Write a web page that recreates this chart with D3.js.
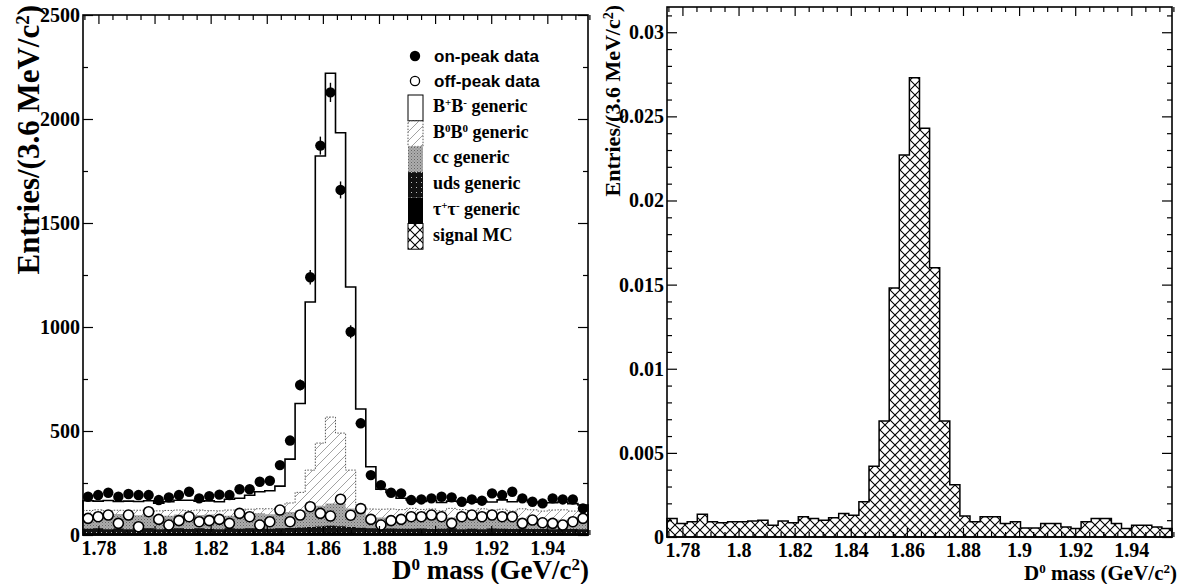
<!DOCTYPE html>
<html>
<head>
<meta charset="utf-8">
<script src="https://cdn.jsdelivr.net/npm/d3@7"></script>
<style>
body { margin: 0; background: #fff; }
svg { display: block; }
.tick line { stroke: #000; stroke-width: 1.2px; }
</style>
</head>
<body>
<svg id="chart" width="1184" height="584"></svg>
<script>
// bins: 50 x 3.6 MeV around the D0 mass
var binStart = 1.7745, binWidth = 0.0036;
var binEdges = d3.range(51).map(function(i) { return binStart + i * binWidth; });

// left panel - data points (entries per bin)
var onPeak = [184,192,203,184,197,192,192,168,181,192, 208,176,187,194,192,220,220,256,261,336,
              454,721,1239,1872,2128,1659,977,537,288,240, 203,200,168,171,176,184,181,160,171,165,
              200,192,208,176,160,152,176,171,171,128];
var offPeak = [80,88,96,56,96,40,112,75,48,69, 88,64,69,75,56,104,88,48,64,120,
               64,96,136,104,91,172,95,127,75,48, 69,75,88,88,96,88,56,88,96,88,
               96,88,88,56,72,59,56,48,64,80];

// left panel - generic MC, one array per stack component
var tauGeneric = [8,9,7,8,8,9,8,7,8,9, 8,8,7,8,9,8,8,9,8,8, 9,10,10,11,12,11,10,9,8,8,
                  8,9,8,7,8,8,9,8,8,7, 8,8,9,8,8,7,8,8,7,8];
var udsGeneric = [22,24,21,23,20,22,25,21,22,23, 21,24,22,20,23,22,24,23,22,24, 25,26,28,30,32,31,28,26,24,22,
                  23,21,22,24,21,22,23,20,22,21, 23,22,20,22,21,22,20,21,22,20];
var ccGeneric = [62,66,60,70,58,64,68,60,62,66, 58,64,70,62,60,66,68,72,70,72, 76,82,90,100,108,110,90,76,58,54,
                 50,50,52,48,50,46,52,48,46,50, 44,48,46,50,44,42,46,44,40,42];
var b0Generic = [26,22,28,18,30,24,20,28,26,22, 30,24,18,26,28,24,24,22,26,26, 44,87,184,301,415,338,184,33,35,40,
                 44,42,46,44,46,40,44,46,42,48, 44,46,40,46,48,44,46,48,46,44];
var bpGeneric = [47,42,50,42,47,42,44,37,42,47, 50,42,47,44,52,57,67,82,87,105, 211,427,808,1380,1653,1444,880,462,203,96,
                 80,55,40,38,42,40,35,38,40,36, 40,45,45,42,38,40,35,38,36,30];

// right panel - signal MC (normalised)
var signalMC = [0.0011,0.0008,0.0009,0.00135,0.0009,0.00085,0.0009,0.0009,0.00095,0.001,
                0.0007,0.00095,0.00085,0.0012,0.0011,0.001,0.00115,0.0014,0.0013,0.0021,
                0.0042,0.0069,0.0148,0.0227,0.0273,0.0243,0.0160,0.0069,0.0031,0.00125,
                0.0009,0.0012,0.0012,0.0008,0.0009,0.00053,0.00053,0.0008,0.0008,0.0006,
                0.0005,0.0009,0.0011,0.0011,0.0008,0.0005,0.0007,0.0007,0.0006,0.0005];

// tick labels
var xTicks = [1.78, 1.8, 1.82, 1.84, 1.86, 1.88, 1.9, 1.92, 1.94];
var leftYTicks = [0, 500, 1000, 1500, 2000, 2500];
var rightYTicks = [0, 0.005, 0.01, 0.015, 0.02, 0.025, 0.03];

var serif = "'Liberation Serif', 'Times New Roman', serif";
var svg = d3.select("#chart");

/////////////////////////////////////////////////////////////////////////
// patterns
var defs = svg.append("defs");

var hatch = defs.append("pattern").attr("id", "hatch")
    .attr("patternUnits", "userSpaceOnUse").attr("width", 9).attr("height", 9);
hatch.append("path").attr("d", "M0,9 L9,0 M-2,2 L2,-2 M7,11 L11,7")
    .attr("stroke", "#8a8a8a").attr("stroke-width", 0.8);

var stipple = defs.append("pattern").attr("id", "stipple")
    .attr("patternUnits", "userSpaceOnUse").attr("width", 3).attr("height", 3);
stipple.append("rect").attr("width", 3).attr("height", 3).attr("fill", "#adadad");
stipple.append("rect").attr("x", 0).attr("y", 0).attr("width", 1).attr("height", 1).attr("fill", "#666");
stipple.append("rect").attr("x", 1.5).attr("y", 1.5).attr("width", 1).attr("height", 1).attr("fill", "#7e7e7e");

var darkDots = defs.append("pattern").attr("id", "darkdots")
    .attr("patternUnits", "userSpaceOnUse").attr("width", 5).attr("height", 5);
darkDots.append("rect").attr("width", 5).attr("height", 5).attr("fill", "#111");
darkDots.append("rect").attr("x", 1).attr("y", 2).attr("width", 1).attr("height", 1).attr("fill", "#bbb");

var cross = defs.append("pattern").attr("id", "cross")
    .attr("patternUnits", "userSpaceOnUse").attr("width", 10).attr("height", 10);
cross.append("rect").attr("width", 10).attr("height", 10).attr("fill", "#fff");
cross.append("path").attr("d", "M0,0 L10,10 M0,10 L10,0")
    .attr("stroke", "#000").attr("stroke-width", 1.1);

/////////////////////////////////////////////////////////////////////////
// helpers

// step outline for a histogram given per-bin values
function histPoints(vals) {
    var pts = vals.map(function(v, i) { return [binEdges[i], v]; });
    pts.push([binEdges[50], vals[vals.length - 1]]);
    return pts;
}

// text with superscripts, parts = [[string, isSup], ...]
function richText(sel, parts, size) {
    sel.style("font-family", serif).style("font-weight", "bold").style("font-size", size + "px");
    parts.forEach(function(p) {
        var t = sel.append("tspan").text(p[0]);
        if (p[1]) t.attr("baseline-shift", "super").style("font-size", Math.round(size * 0.62) + "px");
    });
    return sel;
}

function drawAxes(g, x, y, yMajor, yMinor, yFmt) {
    var xr = x.range(), yr = y.range();
    var minorX = d3.range(0, 37).map(function(i) { return 1.775 + i * 0.005; })
        .filter(function(v) { return xTicks.every(function(t) { return Math.abs(t - v) > 1e-6; }); });
    function clean(a) {
        a.select(".domain").remove();
        a.selectAll("text")
            .style("font-family", serif).style("font-weight", "bold")
            .style("font-size", "20px").attr("fill", "#000");
    }

    // bottom + top
    g.append("g").attr("transform", "translate(0," + yr[0] + ")")
        .call(d3.axisBottom(x).tickValues(xTicks).tickSize(-9).tickPadding(6)
            .tickFormat(function(d) { return +d.toFixed(2); }))
        .call(clean);
    g.append("g").attr("transform", "translate(0," + yr[0] + ")")
        .call(d3.axisBottom(x).tickValues(minorX).tickSize(-5).tickFormat(""))
        .call(clean);
    g.append("g").attr("transform", "translate(0," + yr[1] + ")")
        .call(d3.axisTop(x).tickValues(xTicks).tickSize(-9).tickFormat(""))
        .call(clean);
    g.append("g").attr("transform", "translate(0," + yr[1] + ")")
        .call(d3.axisTop(x).tickValues(minorX).tickSize(-5).tickFormat(""))
        .call(clean);

    // left + right
    g.append("g").attr("transform", "translate(" + xr[0] + ",0)")
        .call(d3.axisLeft(y).tickValues(yMajor).tickSize(-10).tickPadding(3).tickFormat(yFmt))
        .call(clean);
    g.append("g").attr("transform", "translate(" + xr[0] + ",0)")
        .call(d3.axisLeft(y).tickValues(yMinor).tickSize(-5).tickFormat(""))
        .call(clean);
    g.append("g").attr("transform", "translate(" + xr[1] + ",0)")
        .call(d3.axisRight(y).tickValues(yMajor).tickSize(-10).tickFormat(""))
        .call(clean);
    g.append("g").attr("transform", "translate(" + xr[1] + ",0)")
        .call(d3.axisRight(y).tickValues(yMinor).tickSize(-5).tickFormat(""))
        .call(clean);

    // frame
    g.append("rect")
        .attr("x", xr[0]).attr("y", yr[1])
        .attr("width", xr[1] - xr[0]).attr("height", yr[0] - yr[1])
        .attr("fill", "none").attr("stroke", "#000").attr("stroke-width", 1.6);
}

/////////////////////////////////////////////////////////////////////////
// LEFT PANEL
var xL = d3.scaleLinear().domain([binEdges[0], binEdges[50]]).range([83, 588]);
var yL = d3.scaleLinear().domain([0, 2500]).range([535, 15]);
var left = svg.append("g");

var stackRows = binEdges.slice(0, 50).map(function(e, i) {
    return { tau: tauGeneric[i], uds: udsGeneric[i], cc: ccGeneric[i], b0: b0Generic[i], bp: bpGeneric[i] };
});
var layers = d3.stack().keys(["tau", "uds", "cc", "b0", "bp"])(stackRows);

var areaL = d3.area().curve(d3.curveStepAfter)
    .x(function(d) { return xL(d[0]); })
    .y0(yL(0))
    .y1(function(d) { return yL(d[1]); });

var layerStyle = {
    bp:  { fill: "#fff", stroke: "#000", width: 1.6, dash: null },
    b0:  { fill: "url(#hatch)", stroke: "#555", width: 1, dash: "1.5,1.5" },
    cc:  { fill: "url(#stipple)", stroke: "none", width: 0, dash: null },
    uds: { fill: "url(#darkdots)", stroke: "none", width: 0, dash: null },
    tau: { fill: "#000", stroke: "none", width: 0, dash: null }
};

// cumulative histograms, drawn from the top of the stack down
layers.slice().reverse().forEach(function(layer) {
    var st = layerStyle[layer.key];
    left.append("path")
        .datum(histPoints(layer.map(function(d) { return d[1]; })))
        .attr("d", areaL)
        .attr("fill", st.fill)
        .attr("stroke", st.stroke)
        .attr("stroke-width", st.width)
        .attr("stroke-dasharray", st.dash);
});

var centers = binEdges.slice(0, 50).map(function(e) { return e + binWidth / 2; });

// off-peak points
left.selectAll(".off").data(offPeak).enter().append("circle")
    .attr("class", "off")
    .attr("cx", function(d, i) { return xL(centers[i]); })
    .attr("cy", function(d) { return yL(d); })
    .attr("r", 5)
    .attr("fill", "#fff").attr("stroke", "#000").attr("stroke-width", 1.6);

// on-peak points with sqrt(N) errors
left.selectAll(".err").data(onPeak).enter().append("line")
    .attr("class", "err")
    .attr("x1", function(d, i) { return xL(centers[i]); })
    .attr("x2", function(d, i) { return xL(centers[i]); })
    .attr("y1", function(d) { return yL(d + Math.sqrt(d)); })
    .attr("y2", function(d) { return yL(d - Math.sqrt(d)); })
    .attr("stroke", "#000").attr("stroke-width", 1.4);

left.selectAll(".on").data(onPeak).enter().append("circle")
    .attr("class", "on")
    .attr("cx", function(d, i) { return xL(centers[i]); })
    .attr("cy", function(d) { return yL(d); })
    .attr("r", 5.2)
    .attr("fill", "#000");

drawAxes(left, xL, yL, leftYTicks, [250, 750, 1250, 1750, 2250], function(d) { return d; });

// legend
var legend = left.append("g");
legend.append("circle").attr("cx", 415).attr("cy", 56).attr("r", 5.2).attr("fill", "#000");
legend.append("circle").attr("cx", 415).attr("cy", 81).attr("r", 4.6)
    .attr("fill", "#fff").attr("stroke", "#000").attr("stroke-width", 1.3);
legend.append("text").attr("x", 434).attr("y", 62).text("on-peak data")
    .style("font-family", "'Liberation Sans', sans-serif").style("font-weight", "bold").style("font-size", "17px");
legend.append("text").attr("x", 434).attr("y", 87).text("off-peak data")
    .style("font-family", "'Liberation Sans', sans-serif").style("font-weight", "bold").style("font-size", "17px");

var legendItems = [
    { fill: "#fff", stroke: "#000", dash: null, parts: [["B", 0], ["+", 1], ["B", 0], ["-", 1], [" generic", 0]] },
    { fill: "url(#hatch)", stroke: "#555", dash: "1.5,1.5", parts: [["B", 0], ["0", 1], ["B", 0], ["0", 1], [" generic", 0]] },
    { fill: "url(#stipple)", stroke: "none", dash: null, parts: [["cc generic", 0]] },
    { fill: "url(#darkdots)", stroke: "none", dash: null, parts: [["uds generic", 0]] },
    { fill: "#000", stroke: "none", dash: null, parts: [["\u03c4", 0], ["+", 1], ["\u03c4", 0], ["-", 1], [" generic", 0]] },
    { fill: "url(#cross)", stroke: "#000", dash: null, parts: [["signal MC", 0]] }
];
legendItems.forEach(function(item, k) {
    var y0 = 95 + k * 25.7;
    legend.append("rect").attr("x", 408).attr("y", y0).attr("width", 15).attr("height", 25.7)
        .attr("fill", item.fill).attr("stroke", item.stroke).attr("stroke-width", 1)
        .attr("stroke-dasharray", item.dash);
    var t = legend.append("text").attr("x", 433).attr("y", y0 + 17);
    richText(t, item.parts, 18);
});

// titles
var yTitleL = left.append("text")
    .attr("transform", "translate(39,5) rotate(-90)")
    .attr("text-anchor", "end");
richText(yTitleL, [["Entries/(3.6 MeV/c", 0], ["2", 1], [")", 0]], 31);

var xTitleL = left.append("text")
    .attr("x", 589).attr("y", 579)
    .attr("text-anchor", "end");
richText(xTitleL, [["D", 0], ["0", 1], [" mass (GeV/c", 0], ["2", 1], [")", 0]], 27);

/////////////////////////////////////////////////////////////////////////
// RIGHT PANEL
var xR = d3.scaleLinear().domain([binEdges[0], binEdges[50]]).range([667, 1172]);
var yR = d3.scaleLinear().domain([0, 0.0315]).range([537, 7]);
var right = svg.append("g");

var areaR = d3.area().curve(d3.curveStepAfter)
    .x(function(d) { return xR(d[0]); })
    .y0(yR(0))
    .y1(function(d) { return yR(d[1]); });

right.append("path")
    .datum(histPoints(signalMC))
    .attr("d", areaR)
    .attr("fill", "url(#cross)")
    .attr("stroke", "#000")
    .attr("stroke-width", 1.5);

var rightMinor = d3.range(0, 32).map(function(i) { return i * 0.001; })
    .filter(function(v) { return Math.round(v * 1000) % 5 !== 0; });
drawAxes(right, xR, yR, rightYTicks, rightMinor, function(d) { return +d.toFixed(3); });

var yTitleR = right.append("text")
    .attr("transform", "translate(620,5) rotate(-90)")
    .attr("text-anchor", "end");
richText(yTitleR, [["Entries/(3.6 MeV/c", 0], ["2", 1], [")", 0]], 22);

var xTitleR = right.append("text")
    .attr("x", 1177).attr("y", 580)
    .attr("text-anchor", "end");
richText(xTitleR, [["D", 0], ["0", 1], [" mass (GeV/c", 0], ["2", 1], [")", 0]], 21);
</script>
</body>
</html>
